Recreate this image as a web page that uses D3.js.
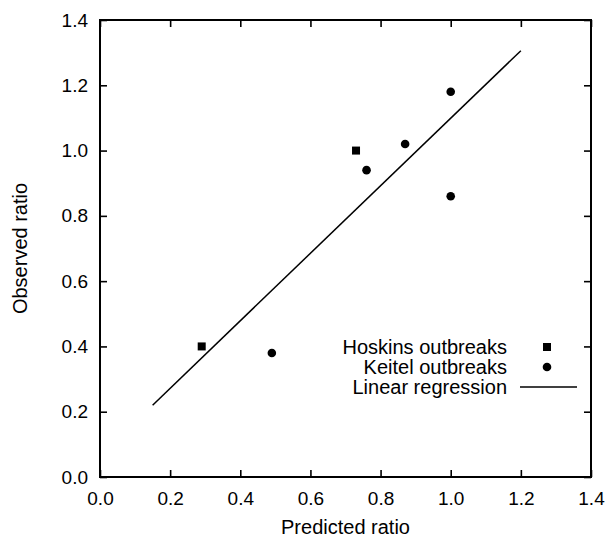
<!DOCTYPE html>
<html>
<head>
<meta charset="utf-8">
<script src="https://cdn.jsdelivr.net/npm/d3@7"></script>
<style>
  body { margin: 0; background: #fff; }
  text { font-family: "Liberation Sans", Arial, Helvetica, sans-serif; fill: #000; }
</style>
</head>
<body>
<svg id="chart" width="605" height="547"></svg>
<script>
// Observed vs predicted ratios
const hoskinsX = [0.73, 0.29];
const hoskinsY = [1.00, 0.40];
const keitelX = [0.76, 0.87, 1.00, 1.00, 0.49];
const keitelY = [0.94, 1.02, 1.18, 0.86, 0.38];
// fitted line end points
const regressionX = [0.15, 1.20];
const regressionY = [0.22, 1.306];
const tickValues = [0, 0.2, 0.4, 0.6, 0.8, 1.0, 1.2, 1.4];
const legendLabels = ["Hoskins outbreaks", "Keitel outbreaks", "Linear regression"];

const margin = {left: 100, top: 20, right: 14, bottom: 70};
const W = 605, H = 547;
const width = W - margin.left - margin.right;
const height = H - margin.top - margin.bottom;

const svg = d3.select("#chart");
const chart = svg.append("g")
    .attr("transform", `translate(${margin.left},${margin.top})`);

const x = d3.scaleLinear().domain([0, 1.4]).range([0, width]);
const y = d3.scaleLinear().domain([0, 1.4]).range([height, 0]);

const fmt = d3.format(".1f");

function styleAxis(g) {
    g.select(".domain").remove();
    g.selectAll(".tick line").attr("stroke", "#000").attr("stroke-width", 1.6);
    g.selectAll(".tick text").style("font-size", "19px");
}

// bottom + left axes with labels, ticks pointing inward
chart.append("g")
    .attr("transform", `translate(0,${height})`)
    .call(d3.axisBottom(x).tickValues(tickValues).tickFormat(fmt)
        .tickSizeInner(-7).tickSizeOuter(0).tickPadding(15))
    .call(styleAxis);

chart.append("g")
    .call(d3.axisLeft(y).tickValues(tickValues).tickFormat(fmt)
        .tickSizeInner(-7).tickSizeOuter(0).tickPadding(12))
    .call(styleAxis);

// mirrored ticks on top and right
chart.append("g")
    .call(d3.axisTop(x).tickValues(tickValues).tickFormat("")
        .tickSizeInner(-7).tickSizeOuter(0))
    .call(styleAxis);

chart.append("g")
    .attr("transform", `translate(${width},0)`)
    .call(d3.axisRight(y).tickValues(tickValues).tickFormat("")
        .tickSizeInner(-7).tickSizeOuter(0))
    .call(styleAxis);

// frame
chart.append("rect")
    .attr("x", 0).attr("y", 0)
    .attr("width", width).attr("height", height)
    .attr("fill", "none")
    .attr("stroke", "#000")
    .attr("stroke-width", 2);

// regression line
const line = d3.line().x(d => x(d[0])).y(d => y(d[1]));
chart.append("path")
    .datum(d3.zip(regressionX, regressionY))
    .attr("d", line)
    .attr("fill", "none")
    .attr("stroke", "#000")
    .attr("stroke-width", 1.5);

// Hoskins squares
const sq = 8;
chart.selectAll(".hoskins")
    .data(d3.zip(hoskinsX, hoskinsY))
    .join("rect")
    .attr("class", "hoskins")
    .attr("x", d => x(d[0]) - sq / 2)
    .attr("y", d => y(d[1]) - sq / 2)
    .attr("width", sq).attr("height", sq)
    .attr("fill", "#000");

// Keitel circles
chart.selectAll(".keitel")
    .data(d3.zip(keitelX, keitelY))
    .join("circle")
    .attr("class", "keitel")
    .attr("cx", d => x(d[0]))
    .attr("cy", d => y(d[1]))
    .attr("r", 4.3)
    .attr("fill", "#000");

// legend
const legend = svg.append("g").attr("transform", "translate(507,354)");
legendLabels.forEach((label, i) => {
    legend.append("text")
        .attr("x", 0).attr("y", i * 20)
        .attr("text-anchor", "end")
        .style("font-size", "20px")
        .text(label);
});
legend.append("rect")
    .attr("x", 40 - sq / 2).attr("y", -7 - sq / 2)
    .attr("width", sq).attr("height", sq)
    .attr("fill", "#000");
legend.append("circle")
    .attr("cx", 40).attr("cy", 13)
    .attr("r", 4.3)
    .attr("fill", "#000");
legend.append("line")
    .attr("x1", 13).attr("x2", 70)
    .attr("y1", 33).attr("y2", 33)
    .attr("stroke", "#000")
    .attr("stroke-width", 1.5);

// axis titles
svg.append("text")
    .attr("x", margin.left + width / 2)
    .attr("y", 534)
    .attr("text-anchor", "middle")
    .style("font-size", "20px")
    .text("Predicted ratio");

svg.append("text")
    .attr("transform", `translate(27,${margin.top + height / 2}) rotate(-90)`)
    .attr("text-anchor", "middle")
    .style("font-size", "20px")
    .text("Observed ratio");
</script>
</body>
</html>
